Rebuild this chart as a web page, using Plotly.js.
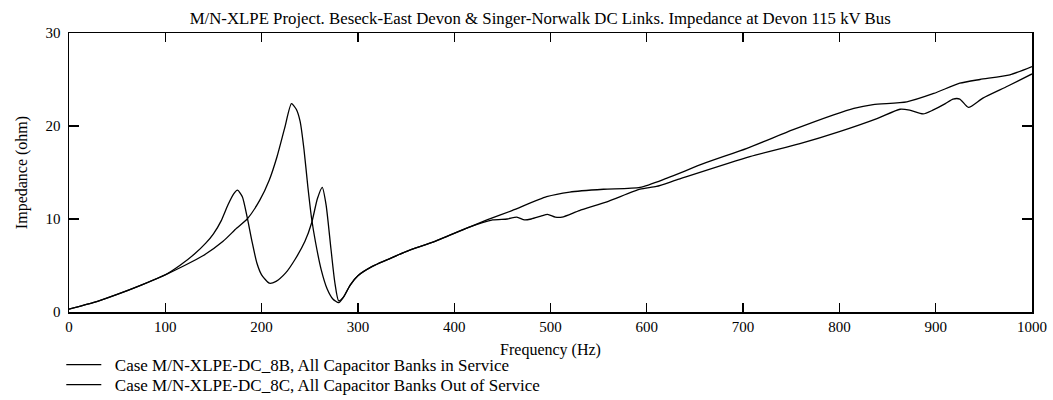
<!DOCTYPE html>
<html>
<head>
<meta charset="utf-8">
<script src="https://cdn.plot.ly/plotly-3.0.1.min.js"></script>
<style>
  body { margin: 0; background: #fff; }
  #plot { width: 1053px; height: 400px; }
</style>
</head>
<body>
<div id="plot"></div>
<script>
// Case 8B - two resonances (175 Hz, 263 Hz)
var freq_8b = [0, 25, 50, 75, 100, 115, 130, 142, 150, 158, 165, 171, 175, 180, 185, 190, 195, 200, 208, 215, 225, 235, 245, 252, 258, 263, 267, 272, 276, 280, 285, 292, 300, 315, 330, 350, 380, 415, 440, 455, 465, 473, 480, 490, 497, 505, 512, 530, 560, 593, 610, 631, 707, 759, 800, 839, 863, 873, 887, 897, 910, 918, 925, 934, 949, 975, 1000];
var imp_8b = [0.3, 1.0, 1.9, 2.9, 4.0, 5.0, 6.2, 7.4, 8.4, 9.8, 11.5, 12.7, 13.1, 12.4, 10.2, 7.6, 5.3, 4.0, 3.1, 3.3, 4.2, 5.7, 7.6, 9.6, 12.2, 13.4, 11.5, 6.8, 3.2, 1.2, 1.6, 2.9, 3.9, 4.9, 5.6, 6.5, 7.6, 9.1, 9.9, 10.0, 10.2, 9.9, 10.0, 10.3, 10.5, 10.2, 10.2, 10.9, 11.9, 13.2, 13.5, 14.2, 16.7, 18.1, 19.4, 20.8, 21.8, 21.7, 21.3, 21.7, 22.4, 22.9, 22.9, 22.0, 23.0, 24.3, 25.6];

// Case 8C - single resonance (232 Hz)
var freq_8c = [0, 25, 50, 75, 100, 120, 140, 160, 174, 185, 198, 208, 216, 224, 231, 236, 240, 244, 248, 252, 256, 262, 268, 274, 280, 285, 292, 300, 315, 330, 350, 380, 415, 434, 460, 496, 520, 555, 593, 621, 660, 704, 752, 794, 815, 835, 870, 898, 925, 946, 977, 1000];
var imp_8c = [0.3, 1.0, 1.9, 2.9, 4.0, 5.0, 6.1, 7.6, 9.0, 10.0, 12.0, 14.2, 16.7, 19.8, 22.4, 21.8, 20.5, 17.5, 13.5, 10.0, 7.5, 4.5, 2.5, 1.4, 1.0, 1.6, 2.9, 3.9, 4.9, 5.6, 6.5, 7.6, 9.1, 9.9, 10.9, 12.4, 12.9, 13.2, 13.4, 14.4, 16.0, 17.6, 19.6, 21.2, 21.9, 22.3, 22.6, 23.5, 24.6, 25.0, 25.5, 26.4];

var serif = 'Liberation Serif, Times New Roman, serif';
var pad = '\u00a0\u00a0';

var trace1 = {
    x: freq_8b,
    y: imp_8b,
    name: pad + 'Case M/N-XLPE-DC_8B, All Capacitor Banks in Service',
    mode: 'lines',
    legend: 'legend',
    line: {color: '#000', width: 1.3, shape: 'spline', smoothing: 0.6}
};
var trace2 = {
    x: freq_8c,
    y: imp_8c,
    name: pad + 'Case M/N-XLPE-DC_8C, All Capacitor Banks Out of Service',
    mode: 'lines',
    legend: 'legend2',
    line: {color: '#000', width: 1.3, shape: 'spline', smoothing: 0.6}
};

var legendStyle = function(ypos) {
    return {
        x: -0.008, xanchor: 'left',
        y: ypos, yanchor: 'middle',
        orientation: 'v',
        bgcolor: 'rgba(0,0,0,0)',
        font: {family: serif, size: 17, color: '#000'},
        itemwidth: 35
    };
};

var layout = {
    width: 1053,
    height: 400,
    margin: {l: 69, r: 21, t: 33, b: 88, autoexpand: false},
    paper_bgcolor: '#fff',
    plot_bgcolor: '#fff',
    font: {family: serif, size: 15, color: '#000'},
    title: {
        text: 'M/N-XLPE Project. Beseck-East Devon &amp; Singer-Norwalk DC Links. Impedance at Devon 115 kV Bus',
        font: {family: serif, size: 16.8, color: '#000'},
        x: 0.513, xanchor: 'center',
        y: 0.955, yanchor: 'middle'
    },
    xaxis: {
        title: {text: 'Frequency (Hz)', font: {family: serif, size: 16}, standoff: 10},
        range: [0, 1000],
        dtick: 100,
        ticks: 'inside',
        ticklen: 9,
        tickwidth: 1.3,
        tickcolor: '#000',
        ticklabelstandoff: 0,
        showline: true,
        linecolor: '#000',
        linewidth: 1.5,
        mirror: 'ticks',
        showgrid: false,
        zeroline: false,
        tickfont: {family: serif, size: 15}
    },
    yaxis: {
        title: {text: 'Impedance (ohm)', font: {family: serif, size: 16}, standoff: 14},
        range: [0, 30],
        dtick: 10,
        ticks: 'inside',
        ticklen: 10,
        tickwidth: 1.3,
        tickcolor: '#000',
        ticklabelstandoff: 4,
        showline: true,
        linecolor: '#000',
        linewidth: 1.5,
        mirror: 'ticks',
        showgrid: false,
        zeroline: false,
        tickfont: {family: serif, size: 15}
    },
    showlegend: true,
    legend: legendStyle(-0.19),
    legend2: legendStyle(-0.262)
};

Plotly.newPlot('plot', [trace1, trace2], layout, {displayModeBar: false, staticPlot: true});
</script>
</body>
</html>
